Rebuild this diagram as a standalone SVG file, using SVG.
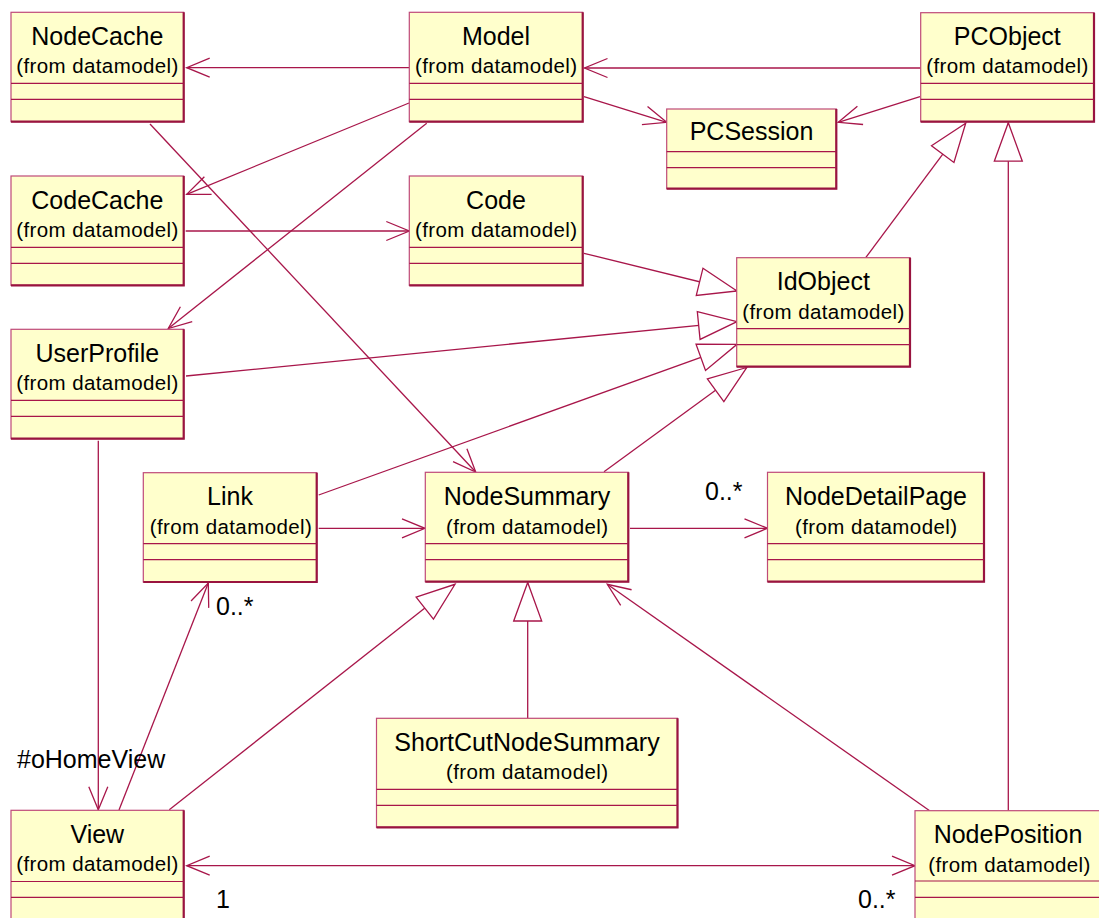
<svg xmlns="http://www.w3.org/2000/svg" width="1099" height="918" viewBox="0 0 1099 918">
<style>
  .box{fill:#ffffcc;stroke:#bf4a78;stroke-width:1.2}
  .edge{fill:none;stroke:#99143f;stroke-width:2.2}
  .sep{stroke:#a8164a;stroke-width:1.2}
  .t{font-family:"Liberation Sans",Arial,sans-serif;font-size:25px;fill:#000;text-anchor:middle}
  .s{font-family:"Liberation Sans",Arial,sans-serif;font-size:20.5px;letter-spacing:0.4px;fill:#000;text-anchor:middle}
  .lbl{font-family:"Liberation Sans",Arial,sans-serif;font-size:25px;fill:#000}
  .c{fill:none;stroke:#a8164a;stroke-width:1.3}
  .open{marker-end:url(#open)}
  .gen{marker-end:url(#tri)}
</style>
<defs>
  <marker id="open" markerUnits="userSpaceOnUse" markerWidth="30" markerHeight="24" refX="0" refY="0" orient="auto" overflow="visible">
    <path d="M-23,-9.5 L0,0 L-23,9.5" fill="none" stroke="#a8164a" stroke-width="1.3"/>
  </marker>
  <marker id="openS" markerUnits="userSpaceOnUse" markerWidth="30" markerHeight="24" refX="0" refY="0" orient="auto-start-reverse" overflow="visible">
    <path d="M-23,-9.5 L0,0 L-23,9.5" fill="none" stroke="#a8164a" stroke-width="1.3"/>
  </marker>
  <marker id="tri" markerUnits="userSpaceOnUse" markerWidth="44" markerHeight="32" refX="0" refY="0" orient="auto" overflow="visible">
    <path d="M-38.5,-14 L0,0 L-38.5,14 Z" fill="#ffffff" stroke="#a8164a" stroke-width="1.3"/>
  </marker>
</defs>

<g id="connectors">
  <line class="c open" x1="409" y1="67.7" x2="186.7" y2="67.7"/>
  <line class="c open" x1="920.7" y1="68" x2="584.5" y2="68"/>
  <line class="c open" x1="584" y1="96.7" x2="666.7" y2="122.3"/>
  <line class="c open" x1="920" y1="96.7" x2="838.3" y2="122.3"/>
  <line class="c open" x1="409" y1="103" x2="186.7" y2="194.3"/>
  <line class="c open" x1="426.7" y1="123.3" x2="168.3" y2="328.5"/>
  <line class="c open" x1="185.7" y1="231" x2="409.3" y2="231"/>
  <line class="c gen" x1="584" y1="253.3" x2="737" y2="291"/>
  <line class="c gen" x1="865.7" y1="257.7" x2="965.7" y2="123.3"/>
  <line class="c gen" x1="1008.3" y1="810.7" x2="1008.3" y2="122.7"/>
  <line class="c gen" x1="186" y1="376" x2="737" y2="321.7"/>
  <line class="c gen" x1="318.7" y1="495" x2="737" y2="344.3"/>
  <line class="c gen" x1="604" y1="471.7" x2="746.7" y2="367.5"/>
  <line class="c open" x1="150" y1="124" x2="475.7" y2="472"/>
  <line class="c open" x1="318.7" y1="528.3" x2="425" y2="528.3"/>
  <line class="c open" x1="630" y1="528.3" x2="767.5" y2="528.3"/>
  <line class="c open" x1="119" y1="810" x2="208.3" y2="583"/>
  <line class="c open" x1="98.3" y1="440.7" x2="98.3" y2="809.8"/>
  <line class="c gen" x1="169.3" y1="809.8" x2="455" y2="584.3"/>
  <line class="c gen" x1="527.7" y1="718.3" x2="527.7" y2="582.5"/>
  <line class="c open" x1="929.3" y1="810.5" x2="607.3" y2="584.3"/>
  <line class="c" x1="186.7" y1="865.7" x2="915" y2="865.7" marker-start="url(#openS)" marker-end="url(#open)"/>
  <text class="lbl" x="705" y="500">0..*</text>
  <text class="lbl" x="216" y="615">0..*</text>
  <text class="lbl" x="17" y="768">#oHomeView</text>
  <text class="lbl" x="216" y="908">1</text>
  <text class="lbl" x="858" y="908">0..*</text>
</g>

<g id="NodeCache">
  <rect class="box" x="11" y="12.3" width="172.7" height="109.4"/>
  <polyline class="edge" points="11,121.7 183.7,121.7 183.7,12.3"/>
  <line class="sep" x1="11" y1="83.3" x2="183.7" y2="83.3"/>
  <line class="sep" x1="11" y1="99.3" x2="183.7" y2="99.3"/>
  <text class="t" x="97.3" y="45">NodeCache</text>
  <text class="s" x="97.5" y="73.3">(from datamodel)</text>
</g>

<g id="Model">
  <rect class="box" x="409.3" y="12.3" width="173.4" height="109.4"/>
  <polyline class="edge" points="409.3,121.7 582.7,121.7 582.7,12.3"/>
  <line class="sep" x1="409.3" y1="83.3" x2="582.7" y2="83.3"/>
  <line class="sep" x1="409.3" y1="99.3" x2="582.7" y2="99.3"/>
  <text class="t" x="496" y="45">Model</text>
  <text class="s" x="496.2" y="73.3">(from datamodel)</text>
</g>

<g id="PCObject">
  <rect class="box" x="920.7" y="12.7" width="173.3" height="109"/>
  <polyline class="edge" points="920.7,121.7 1094,121.7 1094,12.7"/>
  <line class="sep" x1="920.7" y1="83.3" x2="1094" y2="83.3"/>
  <line class="sep" x1="920.7" y1="99.3" x2="1094" y2="99.3"/>
  <text class="t" x="1007.3" y="45">PCObject</text>
  <text class="s" x="1007.5" y="73.3">(from datamodel)</text>
</g>

<g id="PCSession">
  <rect class="box" x="666.7" y="109" width="169.6" height="79.7"/>
  <polyline class="edge" points="666.7,188.7 836.3,188.7 836.3,109"/>
  <line class="sep" x1="666.7" y1="151.7" x2="836.3" y2="151.7"/>
  <line class="sep" x1="666.7" y1="167.7" x2="836.3" y2="167.7"/>
  <text class="t" x="751.5" y="140">PCSession</text>
</g>

<g id="CodeCache">
  <rect class="box" x="11" y="176" width="172.7" height="109.3"/>
  <polyline class="edge" points="11,285.3 183.7,285.3 183.7,176"/>
  <line class="sep" x1="11" y1="247.3" x2="183.7" y2="247.3"/>
  <line class="sep" x1="11" y1="263.3" x2="183.7" y2="263.3"/>
  <text class="t" x="97.3" y="208.7">CodeCache</text>
  <text class="s" x="97.5" y="237">(from datamodel)</text>
</g>

<g id="Code">
  <rect class="box" x="409.3" y="176" width="173.4" height="109.3"/>
  <polyline class="edge" points="409.3,285.3 582.7,285.3 582.7,176"/>
  <line class="sep" x1="409.3" y1="247.3" x2="582.7" y2="247.3"/>
  <line class="sep" x1="409.3" y1="263.3" x2="582.7" y2="263.3"/>
  <text class="t" x="496" y="208.7">Code</text>
  <text class="s" x="496.2" y="237">(from datamodel)</text>
</g>

<g id="IdObject">
  <rect class="box" x="736.7" y="257.7" width="173.3" height="109"/>
  <polyline class="edge" points="736.7,366.7 910,366.7 910,257.7"/>
  <line class="sep" x1="736.7" y1="328.7" x2="910" y2="328.7"/>
  <line class="sep" x1="736.7" y1="344.7" x2="910" y2="344.7"/>
  <text class="t" x="823.3" y="290.4">IdObject</text>
  <text class="s" x="823.5" y="318.7">(from datamodel)</text>
</g>

<g id="UserProfile">
  <rect class="box" x="11" y="329.3" width="172.7" height="109.4"/>
  <polyline class="edge" points="11,438.7 183.7,438.7 183.7,329.3"/>
  <line class="sep" x1="11" y1="400.3" x2="183.7" y2="400.3"/>
  <line class="sep" x1="11" y1="416.3" x2="183.7" y2="416.3"/>
  <text class="t" x="97.3" y="362">UserProfile</text>
  <text class="s" x="97.5" y="390.3">(from datamodel)</text>
</g>

<g id="Link">
  <rect class="box" x="143.3" y="472.7" width="173.4" height="109.3"/>
  <polyline class="edge" points="143.3,582 316.7,582 316.7,472.7"/>
  <line class="sep" x1="143.3" y1="543.7" x2="316.7" y2="543.7"/>
  <line class="sep" x1="143.3" y1="559.7" x2="316.7" y2="559.7"/>
  <text class="t" x="230" y="505.4">Link</text>
  <text class="s" x="231" y="534">(from datamodel)</text>
</g>

<g id="NodeSummary">
  <rect class="box" x="425.3" y="472.3" width="203" height="109.4"/>
  <polyline class="edge" points="425.3,581.7 628.3,581.7 628.3,472.3"/>
  <line class="sep" x1="425.3" y1="543.7" x2="628.3" y2="543.7"/>
  <line class="sep" x1="425.3" y1="559.7" x2="628.3" y2="559.7"/>
  <text class="t" x="527" y="505">NodeSummary</text>
  <text class="s" x="527.2" y="534">(from datamodel)</text>
</g>

<g id="NodeDetailPage">
  <rect class="box" x="767.5" y="472.3" width="216.5" height="109.4"/>
  <polyline class="edge" points="767.5,581.7 984,581.7 984,472.3"/>
  <line class="sep" x1="767.5" y1="543.7" x2="984" y2="543.7"/>
  <line class="sep" x1="767.5" y1="559.7" x2="984" y2="559.7"/>
  <text class="t" x="876" y="505">NodeDetailPage</text>
  <text class="s" x="876.2" y="534">(from datamodel)</text>
</g>

<g id="ShortCutNodeSummary">
  <rect class="box" x="376.5" y="718.3" width="301" height="109"/>
  <polyline class="edge" points="376.5,827.3 677.5,827.3 677.5,718.3"/>
  <line class="sep" x1="376.5" y1="789.3" x2="677.5" y2="789.3"/>
  <line class="sep" x1="376.5" y1="805.3" x2="677.5" y2="805.3"/>
  <text class="t" x="527" y="751">ShortCutNodeSummary</text>
  <text class="s" x="527.2" y="779.3">(from datamodel)</text>
</g>

<g id="View">
  <rect class="box" x="11" y="810.3" width="172.7" height="112"/>
  <polyline class="edge" points="183.7,922 183.7,810.3"/>
  <line class="sep" x1="11" y1="881.5" x2="183.7" y2="881.5"/>
  <line class="sep" x1="11" y1="897.3" x2="183.7" y2="897.3"/>
  <text class="t" x="97.3" y="843">View</text>
  <text class="s" x="97.5" y="871.3">(from datamodel)</text>
</g>

<g id="NodePosition">
  <rect class="box" x="915" y="810.7" width="186" height="112"/>
  <line class="sep" x1="915" y1="881" x2="1101" y2="881"/>
  <line class="sep" x1="915" y1="897.3" x2="1101" y2="897.3"/>
  <text class="t" x="1008" y="843.4">NodePosition</text>
  <text class="s" x="1009.5" y="871.7">(from datamodel)</text>
</g>
</svg>
